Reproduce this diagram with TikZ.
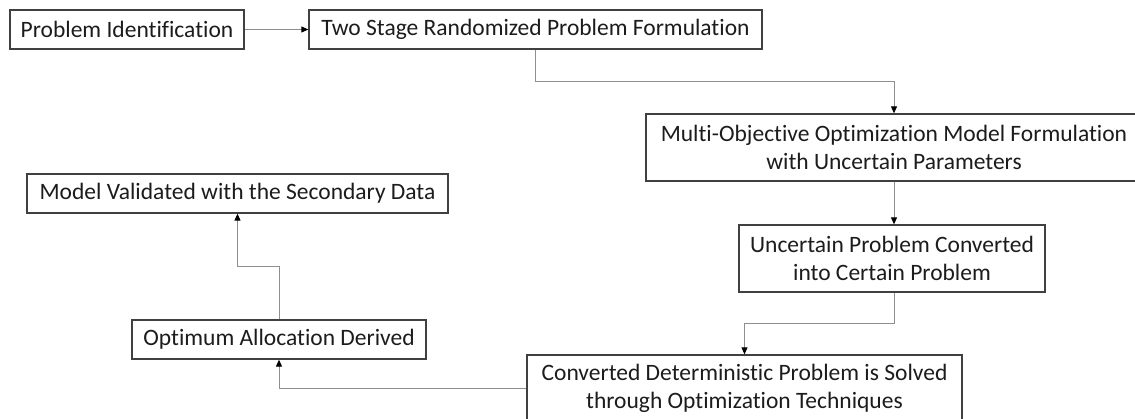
\documentclass[tikz,border=0pt]{standalone}
\usepackage{fontspec}
\setmainfont[Ligatures=NoCommon]{Carlito}
\usetikzlibrary{arrows.meta}
\definecolor{boxline}{HTML}{404040}
\definecolor{linkline}{HTML}{8E8E8E}
\definecolor{ink}{HTML}{1C1C1C}
\tikzset{
  stagebox/.style={draw=boxline, line width=1.3pt, fill=white, text=ink,
    align=center, inner sep=0pt, anchor=center,
    font=\fontsize{23.5}{27.5}\selectfont},
  link/.style={draw=linkline, line width=1pt,
    -{Triangle[length=7pt,width=6pt,color=black]}},
}
\begin{document}
\begin{tikzpicture}[x=1pt,y=-1pt]
\useasboundingbox (0,0) rectangle (1135,419);
\clip (0,0) rectangle (1135,419);

% process stages
\node[stagebox, minimum width=234pt, minimum height=39pt] (b1) at (127,29.5) {Problem Identification};
\node[stagebox, minimum width=453pt, minimum height=39pt] (b2) at (535.5,29.5) {Two Stage Randomized Problem Formulation};
\node[stagebox, minimum width=496pt, minimum height=67pt] (b3) at (894,147.5) {Multi-Objective Optimization Model Formulation\\with Uncertain Parameters};
\node[stagebox, minimum width=306pt, minimum height=67pt] (b4) at (892,258.5) {Uncertain Problem Converted\\into Certain Problem};
\node[stagebox, minimum width=435pt, minimum height=67pt] (b5) at (744.5,388.5) {Converted Deterministic Problem is Solved\\through Optimization Techniques};
\node[stagebox, minimum width=294pt, minimum height=39pt] (b6) at (279,339.5) {Optimum Allocation Derived};
\node[stagebox, minimum width=421pt, minimum height=39pt] (b7) at (237.5,193.5) {Model Validated with the Secondary Data};

% bends of the elbow connectors
\coordinate (j1) at (535.5,82);
\coordinate (j2) at (894,324);
\coordinate (j3) at (279,267);

% connectors
\draw[link] (b1.east) -- (b2.west);
\draw[link] (b2.south) -- (j1) -| (b3.north);
\draw[link] (b3.south) -- (b3.south |- b4.north);
\draw[link] (b4.south -| j2) -- (j2) -| (b5.north);
\draw[link] (b5.west) -| (b6.south);
\draw[link] (b6.north) -- (j3) -| (b7.south);
\end{tikzpicture}
\end{document}
